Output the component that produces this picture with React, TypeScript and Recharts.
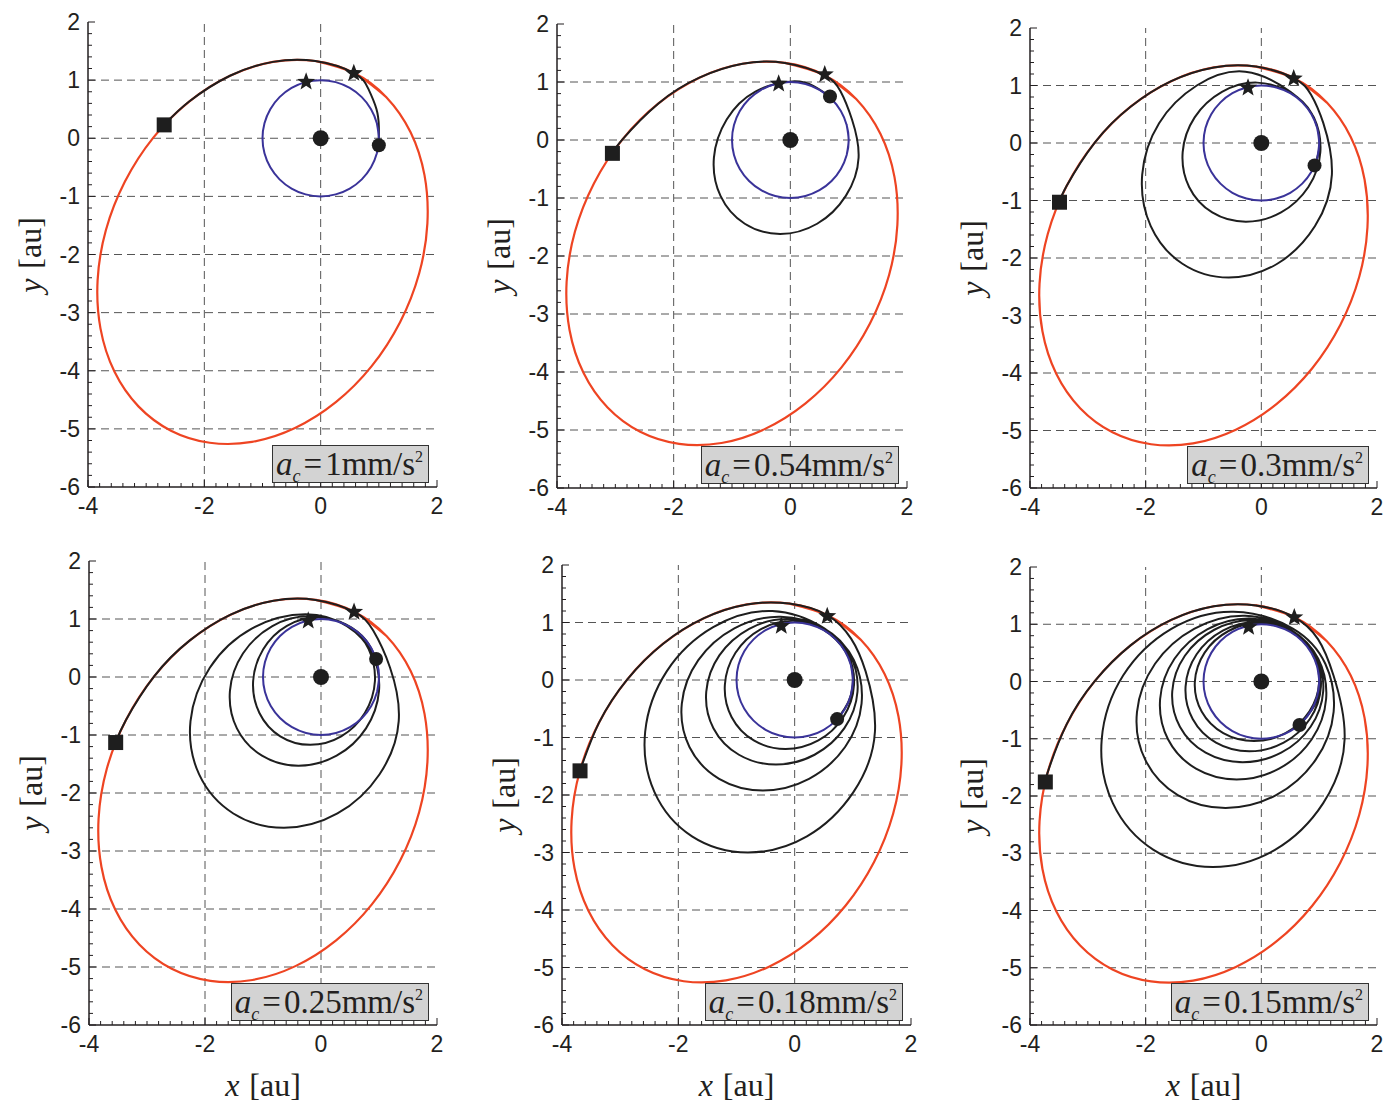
import React from "react";
import { ComposedChart, Line, Scatter, XAxis, YAxis, ReferenceLine } from "recharts";

type Pt = [number, number];

// axis ticks
const xMajorTicks = [-4, -2, 0, 2];
const yMajorTicks = [-6, -5, -4, -3, -2, -1, 0, 1, 2];
const xAllTicks = [-4, -3.8, -3.6, -3.4, -3.2, -3, -2.8, -2.6, -2.4, -2.2, -2, -1.8, -1.6, -1.4, -1.2, -1, -0.8, -0.6, -0.4, -0.2, 0, 0.2, 0.4, 0.6, 0.8, 1, 1.2, 1.4, 1.6, 1.8, 2];
const yAllTicks = [-6, -5.8, -5.6, -5.4, -5.2, -5, -4.8, -4.6, -4.4, -4.2, -4, -3.8, -3.6, -3.4, -3.2, -3, -2.8, -2.6, -2.4, -2.2, -2, -1.8, -1.6, -1.4, -1.2, -1, -0.8, -0.6, -0.4, -0.2, 0, 0.2, 0.4, 0.6, 0.8, 1, 1.2, 1.4, 1.6, 1.8, 2];
const xGridLines = [-2, 0];
const yGridLines = [-5, -4, -3, -2, -1, 0, 1];

const accelLabels = ["1", "0.54", "0.3", "0.25", "0.18", "0.15"];

// target orbit (red); first/last points overlap to close it smoothly
const finalOrbit: Pt[] = [
  [1.133, 0.703], [0.574, 1.121], [-0.093, 1.329], [-0.82, 1.314], [-1.559, 1.075], [-2.261, 0.631],
  [-2.877, 0.011], [-3.365, -0.745], [-3.693, -1.583], [-3.835, -2.445], [-3.785, -3.275], [-3.546, -4.014],
  [-3.133, -4.613], [-2.574, -5.031], [-1.907, -5.239], [-1.18, -5.224], [-0.441, -4.985], [0.261, -4.541],
  [0.877, -3.921], [1.365, -3.165], [1.693, -2.327], [1.835, -1.465], [1.785, -0.635], [1.546, 0.104],
  [1.133, 0.703], [0.574, 1.121], [-0.093, 1.329],
];

// earth orbit (blue)
const earthOrbit: Pt[] = [
  [0.966, -0.259], [1, 0], [0.966, 0.259], [0.866, 0.5], [0.707, 0.707], [0.5, 0.866], [0.259, 0.966], [0, 1],
  [-0.259, 0.966], [-0.5, 0.866], [-0.707, 0.707], [-0.866, 0.5], [-0.966, 0.259], [-1, 0],
  [-0.966, -0.259], [-0.866, -0.5], [-0.707, -0.707], [-0.5, -0.866], [-0.259, -0.966], [0, -1],
  [0.259, -0.966], [0.5, -0.866], [0.707, -0.707], [0.866, -0.5], [0.966, -0.259], [1, 0], [0.966, 0.259],
];

const sunPos: Pt[] = [[0, 0]];

// transfer trajectories (black)
const traj1: Pt[] = [
  [1.0, -0.12], [1.0, 0.2], [0.96, 0.5], [0.82, 0.85], [0.574, 1.121],
  [-0.093, 1.329], [-0.82, 1.314], [-1.559, 1.075], [-2.261, 0.631], [-2.69, 0.23],
];
const traj2: Pt[] = [
  [0.68, 0.75], [0.4, 0.93],
  [0.035, 1.01], [-0.599, 0.834], [-1.091, 0.353], [-1.31, -0.305], [-1.197, -0.963], [-0.781, -1.444],
  [-0.175, -1.62], [0.459, -1.444], [0.951, -0.963], [1.17, -0.305], [1.057, 0.353],
  [0.86, 0.84], [0.574, 1.121],
  [-0.093, 1.329], [-0.82, 1.314], [-1.559, 1.075], [-2.261, 0.631], [-2.877, 0.011], [-3.05, -0.23],
];
const traj3: Pt[] = [
  [0.92, -0.39], [1.01, 0], [0.875, 0.505], [0.505, 0.875],
  [-0.073, 1.05], [-0.681, 0.888], [-1.153, 0.445], [-1.36, -0.16], [-1.249, -0.765], [-0.849, -1.208],
  [-0.267, -1.37], [0.341, -1.208], [0.813, -0.765], [1.02, -0.16], [0.909, 0.445], [0.509, 0.888],
  [-0.277, 1.24], [-1.116, 1.0], [-1.768, 0.345], [-2.06, -0.55], [-1.912, -1.445], [-1.364, -2.1],
  [-0.563, -2.34], [0.276, -2.1], [0.928, -1.445], [1.22, -0.55], [1.072, 0.345],
  [0.86, 0.84], [0.574, 1.121],
  [-0.093, 1.329], [-0.82, 1.314], [-1.559, 1.075], [-2.261, 0.631], [-2.877, 0.011], [-3.365, -0.745],
  [-3.49, -1.03],
];
const traj4: Pt[] = [
  [0.95, 0.31], [0.77, 0.64], [0.42, 0.91],
  [-0.054, 1.03], [-0.588, 0.883], [-0.996, 0.48], [-1.17, -0.07], [-1.062, -0.62], [-0.702, -1.023],
  [-0.186, -1.17], [0.348, -1.023], [0.756, -0.62], [0.93, -0.07], [0.822, 0.48], [0.462, 0.883],
  [-0.182, 1.05], [-0.839, 0.877], [-1.346, 0.405], [-1.57, -0.24], [-1.45, -0.885], [-1.017, -1.357],
  [-0.388, -1.53], [0.269, -1.357], [0.776, -0.885], [1.0, -0.24], [0.88, 0.405], [0.447, 0.877],
  [-0.271, 1.08], [-1.194, 0.833], [-1.917, 0.16], [-2.25, -0.76], [-2.101, -1.68], [-1.512, -2.353],
  [-0.639, -2.6], [0.284, -2.353], [1.007, -1.68], [1.34, -0.76], [1.191, 0.16],
  [0.9, 0.8], [0.574, 1.121],
  [-0.093, 1.329], [-0.82, 1.314], [-1.559, 1.075], [-2.261, 0.631], [-2.877, 0.011], [-3.365, -0.745],
  [-3.54, -1.13],
];
const traj5: Pt[] = [
  [0.73, -0.68], [0.94, -0.34], [1.0, 0.09], [0.87, 0.5], [0.5, 0.87],
  [-0.023, 1.03], [-0.587, 0.881], [-1.017, 0.473], [-1.2, -0.085], [-1.085, -0.643], [-0.703, -1.051],
  [-0.157, -1.2], [0.407, -1.051], [0.837, -0.643], [1.02, -0.085], [0.905, 0.473], [0.523, 0.881],
  [-0.119, 1.06], [-0.782, 0.89], [-1.295, 0.428], [-1.52, -0.205], [-1.397, -0.838], [-0.958, -1.3],
  [-0.321, -1.47], [0.342, -1.3], [0.855, -0.838], [1.08, -0.205], [0.957, 0.428], [0.518, 0.89],
  [-0.244, 1.1], [-1.037, 0.898], [-1.657, 0.345], [-1.94, -0.41], [-1.809, -1.165], [-1.299, -1.718],
  [-0.546, -1.92], [0.247, -1.718], [0.867, -1.165], [1.15, -0.41], [1.019, 0.345], [0.509, 0.898],
  [-0.385, 1.2], [-1.401, 0.919], [-2.2, 0.15], [-2.57, -0.9], [-2.41, -1.95], [-1.765, -2.719],
  [-0.805, -3.0], [0.211, -2.719], [1.01, -1.95], [1.38, -0.9], [1.22, 0.15],
  [0.97, 0.72], [0.574, 1.121],
  [-0.093, 1.329], [-0.82, 1.314], [-1.559, 1.075], [-2.261, 0.631], [-2.877, 0.011], [-3.365, -0.745],
  [-3.693, -1.583],
];
const traj6: Pt[] = [
  [0.66, -0.76], [0.915, -0.425], [1.01, 0], [0.875, 0.505], [0.505, 0.875],
  [-0.023, 1.02], [-0.568, 0.882], [-0.98, 0.505], [-1.15, -0.01], [-1.032, -0.525], [-0.658, -0.902],
  [-0.127, -1.04], [0.418, -0.902], [0.83, -0.525], [1.0, -0.01], [0.882, 0.505], [0.508, 0.882],
  [-0.072, 1.04], [-0.666, 0.889], [-1.119, 0.475], [-1.31, -0.09], [-1.187, -0.655], [-0.784, -1.069],
  [-0.208, -1.22], [0.386, -1.069], [0.839, -0.655], [1.03, -0.09], [0.907, 0.475], [0.504, 0.889],
  [-0.148, 1.07], [-0.813, 0.904], [-1.322, 0.45], [-1.54, -0.17], [-1.408, -0.79], [-0.963, -1.244],
  [-0.322, -1.41], [0.343, -1.244], [0.852, -0.79], [1.07, -0.17], [0.938, 0.45], [0.493, 0.904],
  [-0.203, 1.1], [-0.936, 0.912], [-1.502, 0.398], [-1.75, -0.305], [-1.614, -1.008], [-1.13, -1.522],
  [-0.427, -1.71], [0.306, -1.522], [0.872, -1.008], [1.12, -0.305], [0.984, 0.398], [0.5, 0.912],
  [-0.282, 1.15], [-1.155, 0.925], [-1.838, 0.31], [-2.15, -0.53], [-2.006, -1.37], [-1.445, -1.985],
  [-0.618, -2.21], [0.255, -1.985], [0.938, -1.37], [1.25, -0.53], [1.106, 0.31], [0.545, 0.925],
  [-0.482, 1.22], [-1.556, 0.921], [-2.39, 0.105], [-2.76, -1.01], [-2.568, -2.125], [-1.864, -2.941],
  [-0.838, -3.24], [0.236, -2.941], [1.07, -2.125], [1.44, -1.01], [1.248, 0.105],
  [0.98, 0.74], [0.574, 1.121],
  [-0.093, 1.329], [-0.82, 1.314], [-1.559, 1.075], [-2.261, 0.631], [-2.877, 0.011], [-3.365, -0.745],
  [-3.693, -1.583], [-3.735, -1.755],
];
const trajectories = [traj1, traj2, traj3, traj4, traj5, traj6];

// markers
const departures: Pt[][] = [[[1.0, -0.12]], [[0.68, 0.75]], [[0.92, -0.39]], [[0.95, 0.31]], [[0.73, -0.68]], [[0.66, -0.76]]];
const starMarks: Pt[][] = [
  [[-0.25, 0.97], [0.57, 1.12]],
  [[-0.2, 0.97], [0.59, 1.13]],
  [[-0.23, 0.96], [0.56, 1.12]],
  [[-0.22, 0.97], [0.57, 1.12]],
  [[-0.23, 0.94], [0.56, 1.11]],
  [[-0.22, 0.95], [0.57, 1.12]],
];
const arrivals: Pt[][] = [[[-2.69, 0.23]], [[-3.05, -0.23]], [[-3.49, -1.03]], [[-3.54, -1.13]], [[-3.69, -1.58]], [[-3.735, -1.755]]];

// plot-area placement of each panel on the page
const layout = [
  { left: 88, top: 22, w: 349, h: 465 },
  { left: 557, top: 24, w: 350, h: 464 },
  { left: 1030, top: 28, w: 347, h: 460 },
  { left: 89, top: 561, w: 348, h: 464 },
  { left: 562, top: 565, w: 349, h: 460 },
  { left: 1030, top: 567, w: 347, h: 458 },
];

const RED = "#ee4422";
const BLUE = "#3a3399";
const BLACK = "#1e1e1e";
const INK = "#231f20";
const SANS = "'Liberation Sans', Arial, sans-serif";
const SERIF = "'Liberation Serif', 'Times New Roman', serif";
const TOP = 20;

const pts = (a: Pt[]) => a.map(([x, y]) => ({ x, y }));

const axisStyle = { stroke: INK, strokeWidth: 1.5 };

function BottomTick({ x, y, payload }: any) {
  const major = xMajorTicks.includes(payload.value);
  return (
    <g>
      <line x1={x} y1={y} x2={x} y2={y - (major ? 7 : 4)} stroke={INK} strokeWidth={1} />
      {major && (
        <text x={x} y={y + 27} textAnchor="middle" fontSize={23} fontFamily={SANS} fill={INK}>
          {payload.value}
        </text>
      )}
    </g>
  );
}

function TopTick({ x, y, payload }: any) {
  const major = xMajorTicks.includes(payload.value);
  return <line x1={x} y1={y} x2={x} y2={y + (major ? 7 : 4)} stroke={INK} strokeWidth={1} />;
}

function LeftTick({ x, y, payload }: any) {
  const major = yMajorTicks.includes(payload.value);
  return (
    <g>
      <line x1={x} y1={y} x2={x + (major ? 7 : 4)} y2={y} stroke={INK} strokeWidth={1} />
      {major && (
        <text x={x - 8} y={y + 8} textAnchor="end" fontSize={23} fontFamily={SANS} fill={INK}>
          {payload.value}
        </text>
      )}
    </g>
  );
}

function RightTick({ x, y, payload }: any) {
  const major = yMajorTicks.includes(payload.value);
  return <line x1={x} y1={y} x2={x - (major ? 7 : 4)} y2={y} stroke={INK} strokeWidth={1} />;
}

function starPath(cx: number, cy: number, R: number, r: number) {
  let d = "";
  for (let k = 0; k < 10; k++) {
    const a = -Math.PI / 2 + (k * Math.PI) / 5;
    const rad = k % 2 === 0 ? R : r;
    d += (k === 0 ? "M" : "L") + (cx + rad * Math.cos(a)).toFixed(2) + "," + (cy + rad * Math.sin(a)).toFixed(2);
  }
  return d + "Z";
}

const StarShape = (p: any) => <path d={starPath(p.cx, p.cy, 9.5, 4)} fill={BLACK} />;
const DotShape = (p: any) => <circle cx={p.cx} cy={p.cy} r={7} fill={BLACK} />;
const SunShape = (p: any) => <circle cx={p.cx} cy={p.cy} r={8} fill={BLACK} />;
const SquareShape = (p: any) => <rect x={p.cx - 7.5} y={p.cy - 7.5} width={15} height={15} fill={BLACK} />;

function OrbitPanel({ i }: { i: number }) {
  const p = layout[i];
  const bottomRow = i >= 3;
  const xAxisH = bottomRow ? 90 : 45;
  const W = 88 + p.w + 12;
  const H = TOP + p.h + xAxisH;
  return (
    <div style={{ position: "absolute", left: p.left - 88, top: p.top - TOP, width: W, height: H }}>
      <ComposedChart width={W} height={H} margin={{ top: TOP, right: 12, bottom: 0, left: 0 }}>
        <XAxis
          type="number"
          dataKey="x"
          domain={[-4, 2]}
          allowDataOverflow
          ticks={xAllTicks}
          interval={0}
          height={xAxisH}
          tickSize={0}
          tickMargin={0}
          tickLine={false}
          axisLine={axisStyle}
          tick={(t: any) => <BottomTick {...t} />}
        />
        <XAxis
          xAxisId="t"
          orientation="top"
          type="number"
          dataKey="x"
          domain={[-4, 2]}
          allowDataOverflow
          ticks={xAllTicks}
          interval={0}
          height={0}
          tickSize={0}
          tickMargin={0}
          tickLine={false}
          axisLine={axisStyle}
          tick={(t: any) => <TopTick {...t} />}
        />
        <YAxis
          type="number"
          dataKey="y"
          domain={[-6, 2]}
          allowDataOverflow
          ticks={yAllTicks}
          interval={0}
          width={88}
          tickSize={0}
          tickMargin={0}
          tickLine={false}
          axisLine={axisStyle}
          tick={(t: any) => <LeftTick {...t} />}
        />
        <YAxis
          yAxisId="r"
          orientation="right"
          type="number"
          dataKey="y"
          domain={[-6, 2]}
          allowDataOverflow
          ticks={yAllTicks}
          interval={0}
          width={0}
          tickSize={0}
          tickMargin={0}
          tickLine={false}
          axisLine={axisStyle}
          tick={(t: any) => <RightTick {...t} />}
        />
        {xGridLines.map((v) => (
          <ReferenceLine key={"gx" + v} x={v} stroke="#555" strokeWidth={1} strokeDasharray="8 5" />
        ))}
        {yGridLines.map((v) => (
          <ReferenceLine key={"gy" + v} y={v} stroke="#555" strokeWidth={1} strokeDasharray="8 5" />
        ))}
        <Line data={pts(finalOrbit)} dataKey="y" type="natural" stroke={RED} strokeWidth={2.2} dot={false} isAnimationActive={false} />
        <Line data={pts(trajectories[i])} dataKey="y" type="natural" stroke={BLACK} strokeWidth={2} dot={false} isAnimationActive={false} />
        <Line data={pts(earthOrbit)} dataKey="y" type="natural" stroke={BLUE} strokeWidth={2} dot={false} isAnimationActive={false} />
        <Scatter data={pts(sunPos)} dataKey="y" shape={SunShape} isAnimationActive={false} />
        <Scatter data={pts(departures[i])} dataKey="y" shape={DotShape} isAnimationActive={false} />
        <Scatter data={pts(starMarks[i])} dataKey="y" shape={StarShape} isAnimationActive={false} />
        <Scatter data={pts(arrivals[i])} dataKey="y" shape={SquareShape} isAnimationActive={false} />
      </ComposedChart>

      {/* acceleration label */}
      <div
        style={{
          position: "absolute",
          right: 20,
          bottom: xAxisH + 4,
          height: 38,
          boxSizing: "border-box",
          background: "#d3d3d3",
          border: "1.5px solid #333",
          fontFamily: SERIF,
          fontSize: 33,
          lineHeight: "36px",
          padding: "0 5px 0 3px",
          color: INK,
          whiteSpace: "nowrap",
        }}
      >
        <i>a</i>
        <sub style={{ fontSize: 18, fontStyle: "italic", verticalAlign: "-7px", lineHeight: 0 }}>c</sub>
        <span style={{ margin: "0 3px" }}>=</span>
        {accelLabels[i]}mm/s
        <sup style={{ fontSize: 16, verticalAlign: "13px", lineHeight: 0 }}>2</sup>
      </div>

      {/* y label */}
      <div
        style={{
          position: "absolute",
          left: 30,
          top: TOP + p.h / 2,
          transform: "translate(-50%, -50%) rotate(-90deg)",
          fontFamily: SERIF,
          fontSize: 32,
          color: INK,
          whiteSpace: "nowrap",
        }}
      >
        <i>y</i>
        <span style={{ marginLeft: 10 }}>[au]</span>
      </div>

      {bottomRow && (
        <div
          style={{
            position: "absolute",
            left: 88 + p.w / 2,
            top: TOP + p.h + 60,
            transform: "translate(-50%, -50%)",
            fontFamily: SERIF,
            fontSize: 32,
            color: INK,
            whiteSpace: "nowrap",
          }}
        >
          <i>x</i>
          <span style={{ marginLeft: 10 }}>[au]</span>
        </div>
      )}
    </div>
  );
}

export default function App() {
  return (
    <div style={{ position: "absolute", left: 0, top: 0, width: 1395, height: 1102, background: "#fff" }}>
      {layout.map((_, i) => (
        <OrbitPanel key={i} i={i} />
      ))}
    </div>
  );
}
